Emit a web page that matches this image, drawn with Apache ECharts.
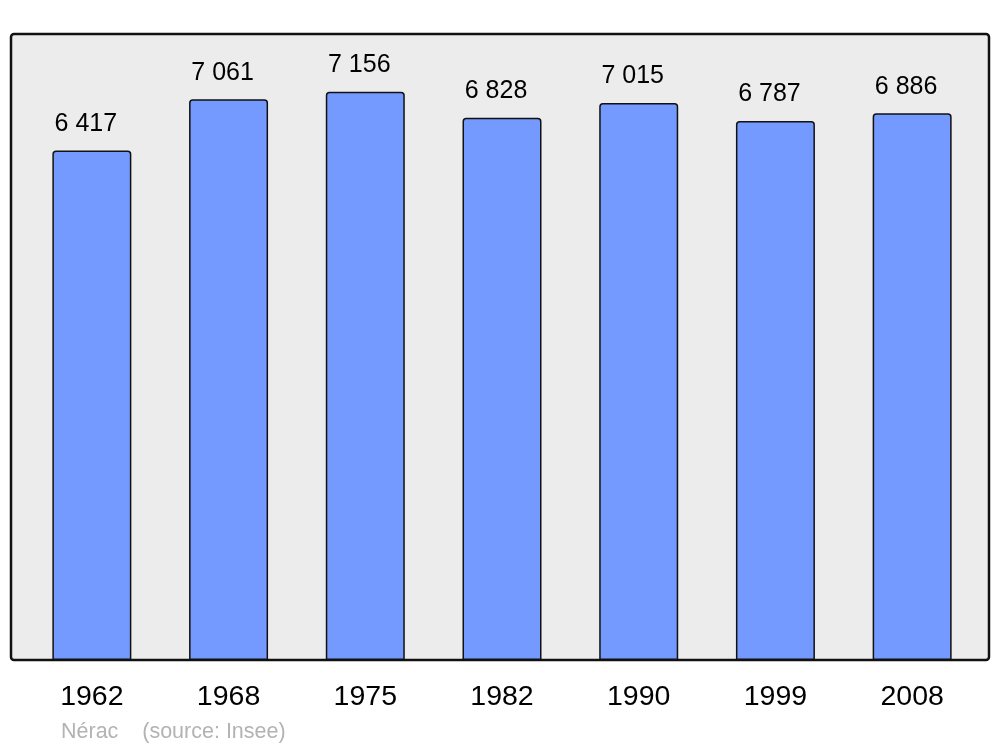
<!DOCTYPE html>
<html>
<head>
<meta charset="utf-8">
<script src="https://cdn.jsdelivr.net/npm/echarts@6/dist/echarts.min.js"></script>
<style>
  html, body { margin: 0; padding: 0; background: #fff; }
  #chart { width: 1000px; height: 747px; }
</style>
</head>
<body>
<div id="chart"></div>
<script>
// population of Nérac by census year
const years = ['1962', '1968', '1975', '1982', '1990', '1999', '2008']
const population = [6417, 7061, 7156, 6828, 7015, 6787, 6886]

const chart = echarts.init(document.getElementById('chart'))

function fmt(v) {
    // french style thousands separator
    return String(v).replace(/\B(?=(\d{3})+(?!\d))/g, ' ')
}

chart.setOption({
    animation: false,
    textStyle: { fontFamily: 'Liberation Sans, Arial, sans-serif' },
    title: {
        text: 'Nérac    (source: Insee)',
        left: 56,
        top: 716,
        textStyle: {
            color: '#b3b3b3',
            fontSize: 21.5,
            fontWeight: 'normal'
        }
    },
    graphic: [{
        type: 'rect',
        z: -10,
        shape: { x: 11, y: 34, width: 978, height: 626, r: 3 },
        style: { fill: '#ececec', stroke: '#111', lineWidth: 2.5 }
    }],
    grid: {
        left: 23.5,
        width: 957,
        top: 34,
        bottom: 87
    },
    xAxis: {
        type: 'category',
        data: years,
        axisLine: { show: false },
        axisTick: { show: false },
        axisLabel: {
            color: '#000',
            fontSize: 28.5,
            margin: 23
        }
    },
    yAxis: {
        type: 'value',
        min: 0,
        max: 7884,
        show: false,
        splitLine: { show: false }
    },
    series: [{
        type: 'bar',
        data: population,
        barWidth: 79,
        itemStyle: {
            color: '#7499ff',
            borderColor: '#111',
            borderWidth: 1.5,
            borderRadius: [3, 3, 0, 0]
        },
        label: {
            show: true,
            position: 'top',
            distance: 14,
            offset: [-6, 0],
            color: '#000',
            fontSize: 25,
            formatter: p => fmt(p.value)
        }
    }]
})
</script>
</body>
</html>
